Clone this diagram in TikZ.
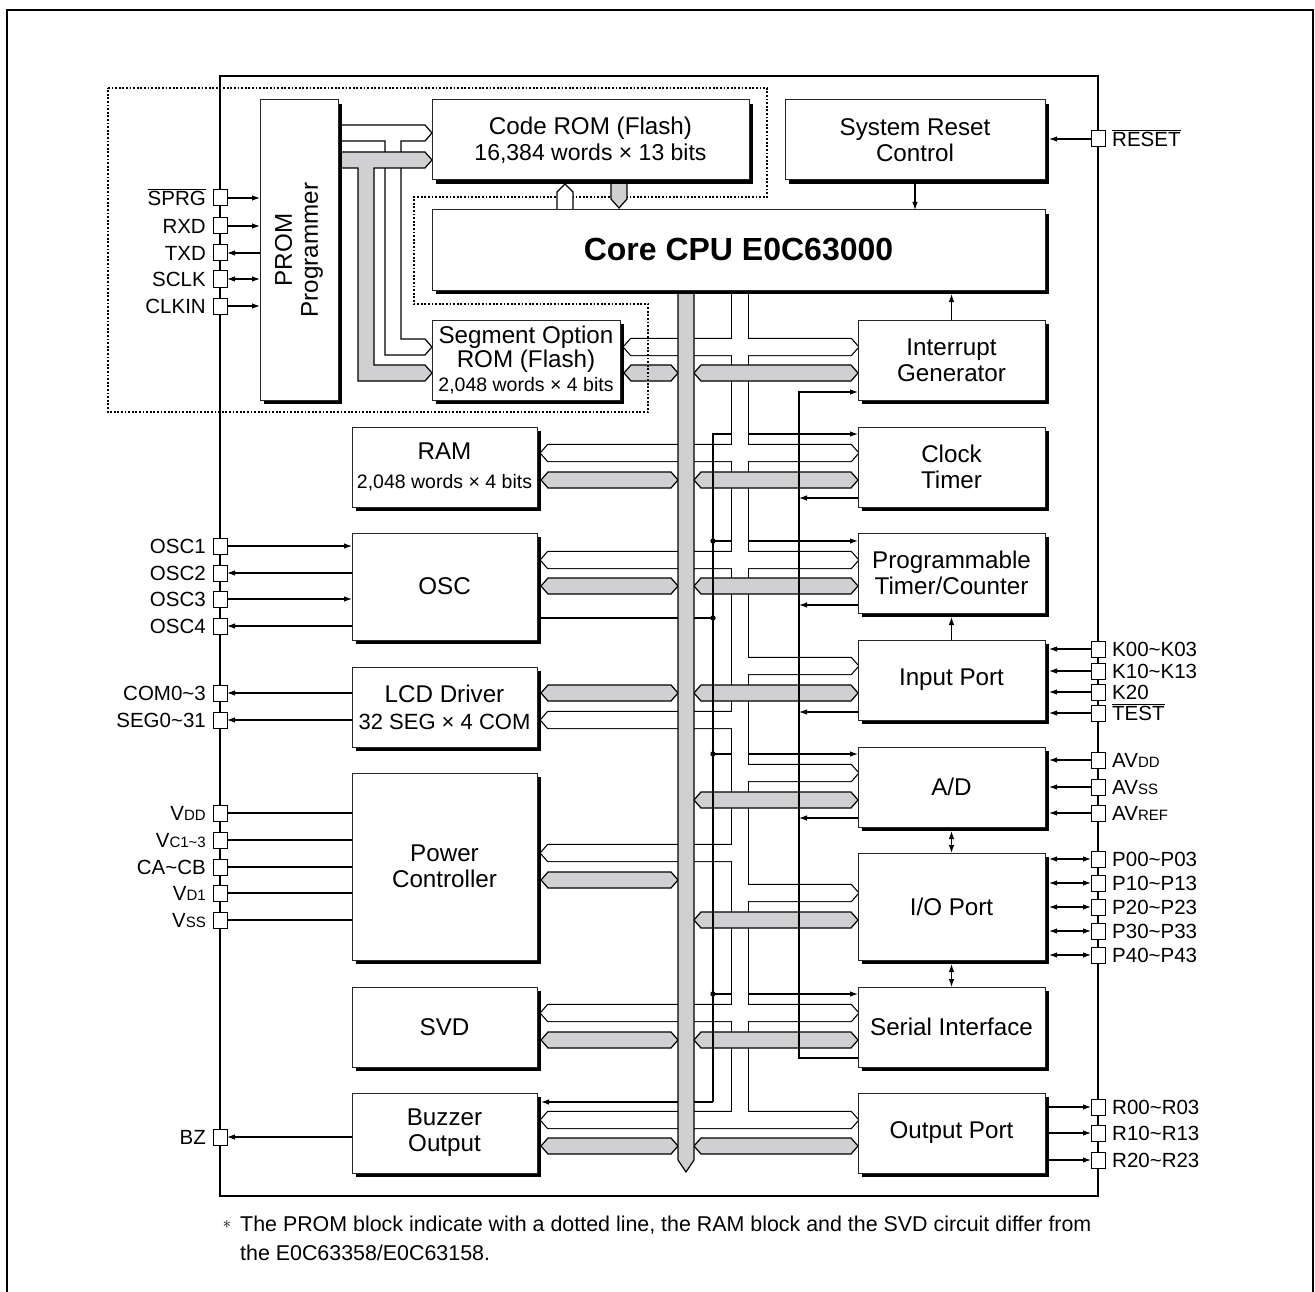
\documentclass[tikz,border=0pt]{standalone}
\usepackage{fontspec}
\setmainfont{Liberation Sans}
\usetikzlibrary{arrows.meta,shadows,calc}
\pgfdeclarelayer{bg}
\pgfsetlayers{bg,main}
\definecolor{busgray}{RGB}{208,208,210}
\newcommand{\smc}[1]{{\fontsize{15}{15}\selectfont #1}}
\newcommand{\tld}{\textasciitilde}
\newcommand{\ovl}[1]{$\overline{\mbox{#1}}$}
\newcommand{\whitenet}[1]{%
 \path[#1] (732,280) rectangle (748,1120);
 \foreach \y/\a/\b in {347/624/858,453/541/858,560/541/858,1013/541/858,1120/541/858}
   {\path[#1] (\a,\y) -- ({\a+7},{\y-8}) -- ({\b-7},{\y-8}) -- (\b,\y) -- ({\b-7},{\y+8}) -- ({\a+7},{\y+8}) -- cycle;}
 \foreach \y/\a/\b in {720/541/740,853/541/740}
   {\path[#1] (\a,\y) -- ({\a+7},{\y-8}) -- (\b,{\y-8}) -- (\b,{\y+8}) -- ({\a+7},{\y+8}) -- cycle;}
 \foreach \y/\a/\b in {666/740/858,773/740/858,893/740/858}
   {\path[#1] (\a,{\y-8}) -- ({\b-7},{\y-8}) -- (\b,\y) -- ({\b-7},{\y+8}) -- (\a,{\y+8}) -- cycle;}
}
\begin{document}
\begin{tikzpicture}[x=1pt,y=-1pt,
  >={Latex[length=8pt,width=5.5pt]},
  sig/.style={line width=1.1pt},
  blk/.style={draw=black!85, line width=1pt, fill=white, inner sep=0pt, outer sep=0pt, anchor=north west, align=center, font=\fontsize{24.2}{26}\selectfont, drop shadow={opacity=1, shadow xshift=4pt, shadow yshift=-4pt, fill=black}},
  pinsq/.style={draw, line width=1pt, fill=white, minimum width=14pt, minimum height=16pt, inner sep=0pt, outer sep=0pt},
  plab/.style={font=\fontsize{20.5}{22}\selectfont, inner sep=0pt},
  gbus/.style={draw=black, line width=1.2pt, fill=busgray, line join=miter},
  wp1/.style={draw=black, line width=2.4pt, fill=white, line join=miter},
  wp2/.style={fill=white},
  dotline/.style={line width=1.8pt, dash pattern=on 1.8pt off 1.8pt},
]
\useasboundingbox (0,0) rectangle (1315,1292);

% ---------- blocks ----------
\node[blk, minimum width=78pt, minimum height=300pt] (prom) at (260,100) {};
\node[rotate=90, align=center, font=\fontsize{24.2}{26}\selectfont] (promtxt) at (prom.center) {PROM\\Programmer};
\node[blk, minimum width=317pt, minimum height=80pt] (coderom) at (432,100) {Code ROM (Flash)\\{\fontsize{23}{26}\selectfont 16,384 words × 13 bits}};
\node[blk, minimum width=260pt, minimum height=80pt] (reset) at (785,100) {System Reset\\Control};
\node[blk, minimum width=613pt, minimum height=80pt, font=\fontsize{32}{36}\selectfont\bfseries] (cpu) at (432,210) {Core CPU E0C63000};
\node[blk, minimum width=188pt, minimum height=80pt, font=\fontsize{24.2}{24}\selectfont] (segrom) at (432,320) {Segment Option\\ROM (Flash)\\{\fontsize{19.5}{24}\selectfont 2,048 words × 4 bits}};
\node[blk, minimum width=187pt, minimum height=80pt] (intgen) at (858,320) {Interrupt\\Generator};
\node[blk, minimum width=185pt, minimum height=80pt, font=\fontsize{24.2}{29}\selectfont] (ram) at (352,427) {RAM\\{\fontsize{19.5}{29}\selectfont 2,048 words × 4 bits}};
\node[blk, minimum width=187pt, minimum height=80pt] (clock) at (858,427) {Clock\\Timer};
\node[blk, minimum width=185pt, minimum height=107pt] (osc) at (352,533) {OSC};
\node[blk, minimum width=187pt, minimum height=80pt] (prog) at (858,533) {Programmable\\Timer/Counter};
\node[blk, minimum width=185pt, minimum height=80pt, font=\fontsize{24.2}{27}\selectfont] (lcd) at (352,667) {LCD Driver\\{\fontsize{22}{27}\selectfont 32 SEG × 4 COM}};
\node[blk, minimum width=187pt, minimum height=80pt] (inport) at (858,640) {Input Port};
\node[blk, minimum width=185pt, minimum height=187pt] (power) at (352,773) {Power\\Controller};
\node[blk, minimum width=187pt, minimum height=80pt] (ad) at (858,747) {A/D};
\node[blk, minimum width=187pt, minimum height=107pt] (io) at (858,853) {I/O Port};
\node[blk, minimum width=185pt, minimum height=80pt] (svd) at (352,987) {SVD};
\node[blk, minimum width=187pt, minimum height=80pt] (serial) at (858,987) {Serial Interface};
\node[blk, minimum width=185pt, minimum height=80pt] (buzzer) at (352,1093) {Buzzer\\Output};
\node[blk, minimum width=187pt, minimum height=80pt] (outport) at (858,1093) {Output Port};

\begin{pgfonlayer}{bg}
% frames
\draw[line width=1.8pt] (7,1292) -- (7,10) -- (1313,10) -- (1313,1292);
\draw[line width=1.6pt] (220,76) rectangle (1098,1196);

% PROM buses
\draw[line width=1.2pt, fill=white, line join=miter] (338,125) -- (425,125) -- (432,133) -- (425,141) -- (401,141) -- (401,339) -- (425,339) -- (432,347) -- (425,355) -- (385,355) -- (385,141) -- (338,141) -- cycle;
\draw[gbus] (338,152) -- (425,152) -- (432,160) -- (425,168) -- (374,168) -- (374,365) -- (425,365) -- (432,373) -- (425,381) -- (358,381) -- (358,168) -- (338,168) -- cycle;

% white bus network (two passes)
\whitenet{wp1}
\whitenet{wp2}

% gray side buses
\foreach \y/\a/\b in {373/624/678,480/541/678,586/541/678,693/541/678,880/541/678,1040/541/678,1146/541/678,
                     373/694/858,480/694/858,586/694/858,693/694/858,800/694/858,920/694/858,1040/694/858,1146/694/858}
  {\draw[gbus] (\a,\y) -- ({\a+7},{\y-8}) -- ({\b-7},{\y-8}) -- (\b,\y) -- ({\b-7},{\y+8}) -- ({\a+7},{\y+8}) -- cycle;}

% interrupt request lines
\draw[sig,->] (serial.west |- 0,1058) -- (799,1058) -- (799,392) -- (intgen.west |- 0,392);
\foreach \y/\n in {498/clock,605/prog,712/inport,818/ad}
  {\draw[sig,->] (\n.west |- 0,\y) -- (799,\y);}
% clock distribution lines
\draw[sig] (732,434) -- (713,434) -- (713,1102);
\draw[sig,->] (713,1102) -- ($(buzzer.east |- 0,1102)+(4,0)$);
\draw[sig] ($(osc.east |- 0,618)+(4,0)$) -- (713,618);
\foreach \y in {541,754,994} {\draw[sig] (713,\y) -- (732,\y);}
\foreach \y/\n in {434/clock,541/prog,754/ad,994/serial}
  {\draw[sig,->] (748,\y) -- (\n.west |- 0,\y);}
\foreach \y in {541,618,754,994} {\fill (713,\y) circle (2.7pt);}

% main data bus
\draw[gbus] (678,286) -- (694,286) -- (694,1160) -- (686,1172) -- (678,1160) -- cycle;

% PROM boundary
\draw[dotline] (108,88) -- (767,88) -- (767,197) -- (414,197) -- (414,304) -- (648,304) -- (648,412) -- (108,412) -- cycle;

% Code ROM <-> CPU
\draw[line width=1.2pt, fill=white, line join=miter] (557,214) -- (557,192) -- (565,184) -- (573,192) -- (573,214) -- cycle;
\draw[gbus] (611,176) -- (611,199) -- (619,208) -- (627,199) -- (627,176) -- cycle;
\end{pgfonlayer}

% vertical control arrows
\draw[sig,->] ($(reset.south)+(0,4)$) -- (cpu.north -| reset.south);
\draw[sig,->] (intgen.north) -- ($(cpu.south -| intgen.north)+(0,4)$);
\draw[sig,->] (inport.north) -- ($(prog.south -| inport.north)+(0,4)$);
\draw[sig,<->] (io.north) -- ($(ad.south -| io.north)+(0,4)$);
\draw[sig,<->] (serial.north) -- ($(io.south -| serial.north)+(0,4)$);

% ---------- left pins ----------
\foreach \n/\y/\lab in {SPRG/198/{\ovl{SPRG}},RXD/226/RXD,TXD/253/TXD,SCLK/279/SCLK,CLKIN/306/CLKIN,
   OSCa/546/OSC1,OSCb/573/OSC2,OSCc/599/OSC3,OSCd/626/OSC4,COM/693/{COM0\tld 3},SEG/720/{SEG0\tld 31},
   VDD/813/{V\smc{DD}},VC/840/{V\smc{C1\tld 3}},CA/867/{CA\tld CB},VDa/893/{V\smc{D1}},VSS/920/{V\smc{SS}},BZ/1137/BZ}
 {\node[pinsq] (p\n) at (220,\y) {};
  \node[plab, anchor=base east] (l\n) at (206,{\y+7.3}) {\lab};}
\foreach \n in {SPRG,RXD,CLKIN} {\draw[sig,->] (p\n.east) -- (prom.west |- p\n);}
\draw[sig,<-] (pTXD.east) -- (prom.west |- pTXD);
\draw[sig,<->] (pSCLK.east) -- (prom.west |- pSCLK);
\foreach \n in {OSCa,OSCc} {\draw[sig,->] (p\n.east) -- (osc.west |- p\n);}
\foreach \n in {OSCb,OSCd} {\draw[sig,<-] (p\n.east) -- (osc.west |- p\n);}
\foreach \n in {COM,SEG} {\draw[sig,<-] (p\n.east) -- (lcd.west |- p\n);}
\foreach \n in {VDD,VC,CA,VDa,VSS} {\draw[sig] (p\n.east) -- (power.west |- p\n);}
\draw[sig,<-] (pBZ.east) -- (buzzer.west |- pBZ);

% ---------- right pins ----------
\foreach \n/\y/\lab in {RESET/139/{\ovl{RESET}},Ka/649/{K00\tld K03},Kb/671/{K10\tld K13},Kc/692/K20,TEST/713/{\ovl{TEST}},
   AVDD/760/{AV\smc{DD}},AVSS/787/{AV\smc{SS}},AVREF/813/{AV\smc{REF}},
   Pa/859/{P00\tld P03},Pb/883/{P10\tld P13},Pc/907/{P20\tld P23},Pd/931/{P30\tld P33},Pe/955/{P40\tld P43},
   Ra/1107/{R00\tld R03},Rb/1133/{R10\tld R13},Rc/1160/{R20\tld R23}}
 {\node[pinsq] (p\n) at (1098,\y) {};
  \node[plab, anchor=base west] (l\n) at (1112,{\y+7.3}) {\lab};}
\draw[sig,->] (pRESET.west) -- ($(reset.east |- pRESET)+(4,0)$);
\foreach \n in {Ka,Kb,Kc,TEST} {\draw[sig,->] (p\n.west) -- ($(inport.east |- p\n)+(4,0)$);}
\foreach \n in {AVDD,AVSS,AVREF} {\draw[sig,->] (p\n.west) -- ($(ad.east |- p\n)+(4,0)$);}
\foreach \n in {Pa,Pb,Pc,Pd,Pe} {\draw[sig,<->] (p\n.west) -- ($(io.east |- p\n)+(4,0)$);}
\foreach \n in {Ra,Rb,Rc} {\draw[sig,<-] (p\n.west) -- ($(outport.east |- p\n)+(4,0)$);}

% ---------- footnote ----------
\node[font=\fontsize{18}{18}\selectfont, inner sep=0pt] (ast) at (227,1224) {$\ast$};
\node[anchor=base west, inner sep=0pt, font=\fontsize{21.4}{24}\selectfont] (note1) at (240,1231) {The PROM block indicate with a dotted line, the RAM block and the SVD circuit differ from};
\node[anchor=base west, inner sep=0pt, font=\fontsize{21.4}{24}\selectfont] (note2) at (240,1260) {the E0C63358/E0C63158.};
\end{tikzpicture}
\end{document}
